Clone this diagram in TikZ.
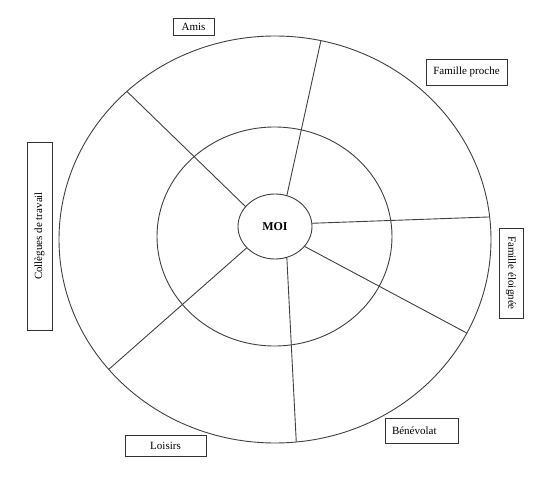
\documentclass[tikz,border=0pt]{standalone}
\usepackage{fontspec}
\setmainfont{Liberation Serif}
\usetikzlibrary{shapes.geometric}

\begin{document}
\begin{tikzpicture}[x=1pt,y=-1pt,
  trait/.style={draw=black!75,line width=0.9pt},
  anneau/.style={ellipse,draw=black!75,line width=0.9pt,inner sep=0pt,outer sep=0pt},
  boite/.style={draw=black!80,line width=0.9pt,inner sep=0pt,outer sep=0pt,font=\fontsize{11}{13}\selectfont}]
\useasboundingbox (0,0) rectangle (550,484);
% les trois cercles
\node[anneau,minimum width=432pt,minimum height=407pt] (ext) at (275,239.5) {};
\node[anneau,minimum width=235pt,minimum height=219pt] (milieu) at (274.5,236.5) {};
\node[anneau,minimum width=74pt,minimum height=65pt,font=\bfseries\fontsize{12}{14}\selectfont] (moi) at (275,226.5) {MOI};
% les rayons
\draw[trait] (moi.69.1) -- (ext.77.4);
\draw[trait] (moi.5.4) -- (ext.6.8);
\draw[trait] (moi.-34.3) -- (ext.-26.8);
\draw[trait] (moi.-69.1) -- (ext.-84.4);
\draw[trait] (moi.217.8) -- (ext.218);
\draw[trait] (moi.146.1) -- (ext.135.7);
% les etiquettes
\node[boite,minimum width=41pt,minimum height=17pt] (amis) at (193.5,26.5) {Amis};
\node[boite,minimum width=81pt,minimum height=26pt] (proche) at (466.5,72) {Famille proche};
\node[boite,rotate=-90,minimum width=90pt,minimum height=24pt] (eloignee) at (511,273) {Famille éloignée};
\node[boite,inner xsep=7pt,text width=59pt,align=left,minimum height=25pt] (benevolat) at (421.5,430.5) {Bénévolat};
\node[boite,minimum width=81pt,minimum height=21pt] (loisirs) at (165.5,445.5) {Loisirs};
\node[boite,rotate=90,minimum width=188pt,minimum height=25pt] (collegues) at (39.5,236) {Collègues de travail};
\end{tikzpicture}
\end{document}
